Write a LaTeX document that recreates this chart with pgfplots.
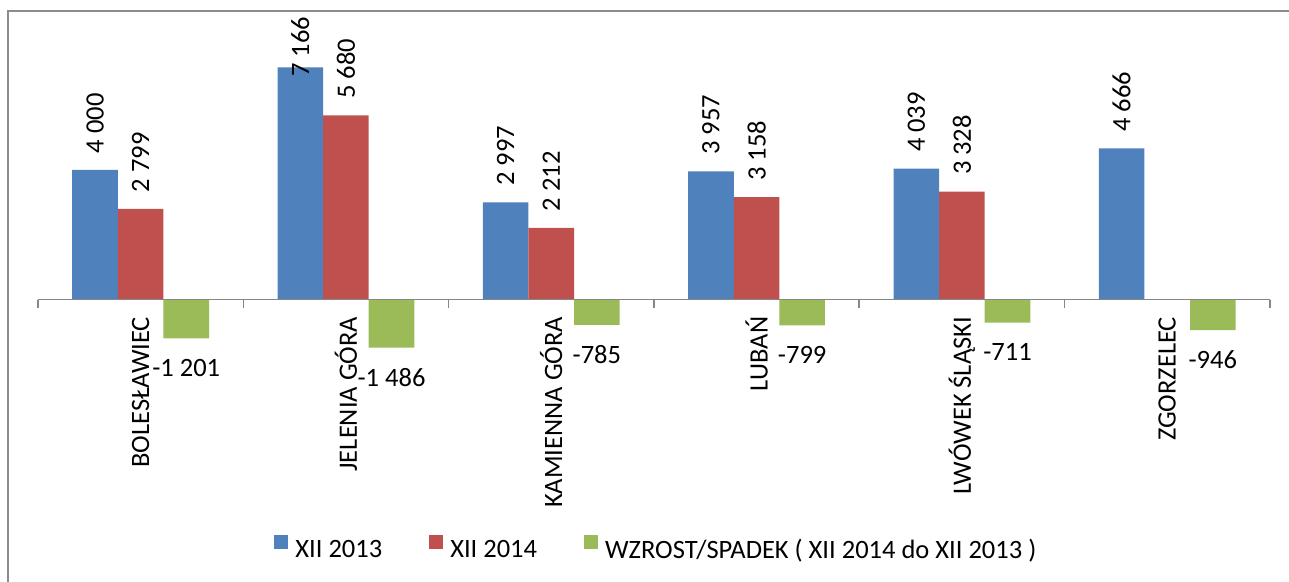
\documentclass[border=0pt]{standalone}
\usepackage{fontspec}
\setmainfont{Carlito}
\usepackage{pgfplots}
\pgfplotsset{compat=1.18}
\definecolor{cblue}{HTML}{4F81BD}
\definecolor{cred}{HTML}{C0504D}
\definecolor{cgreen}{HTML}{9BBB59}
\definecolor{axgray}{HTML}{868686}
\definecolor{frgray}{HTML}{8C8C8C}
\newcommand{\lab}{\fontsize{26.5}{31}\selectfont}
\begin{document}
\begin{tikzpicture}[x=1pt,y=1pt,font=\lab]
\path[use as bounding box] (-140.6,-281.5) rectangle (1148.4,299.5);
\draw[frgray, line width=2pt] (-132.6,-290) -- (-132.6,288) -- (1160,288);
\begin{axis}[
  at={(0pt,0pt)}, anchor=origin,
  scale only axis, width=1232pt, height=324pt,
  xmin=-0.5, xmax=5.5, ymin=-2000, ymax=8000,
  hide axis, clip=false,
  ybar=0pt, bar width=45.6pt,
  legend columns=3,
  legend image code/.code={\fill[#1] (0pt,1pt) rectangle (14pt,15pt);},
  legend style={at={(0.5012,-0.5654)}, anchor=center, draw=none, fill=none,
    font=\lab, nodes={inner sep=0pt}, column sep=7pt,
    /tikz/every even column/.append style={column sep=47pt}},
]
\addplot[fill=cblue, draw=none] coordinates {(0,4000) (1,7166) (2,2997) (3,3957) (4,4039) (5,4666)};
\addplot[fill=cred, draw=none] coordinates {(0,2799) (1,5680) (2,2212) (3,3158) (4,3328)};
\addplot[fill=cgreen, draw=none] coordinates {(0,-1201) (1,-1486) (2,-785) (3,-799) (4,-711) (5,-946)};
\legend{XII 2013, XII 2014, WZROST/SPADEK ( XII 2014 do XII 2013 )}
% zero line and category ticks
\draw[axgray, line width=1.7pt] (axis cs:-0.5,0) -- (axis cs:5.5,0);
\draw[axgray, line width=1.5pt] (axis cs:-0.5,0) -- (axis cs:-0.5,-250);
\draw[axgray, line width=1.5pt] (axis cs:0.5,0) -- (axis cs:0.5,-250);
\draw[axgray, line width=1.5pt] (axis cs:1.5,0) -- (axis cs:1.5,-250);
\draw[axgray, line width=1.5pt] (axis cs:2.5,0) -- (axis cs:2.5,-250);
\draw[axgray, line width=1.5pt] (axis cs:3.5,0) -- (axis cs:3.5,-250);
\draw[axgray, line width=1.5pt] (axis cs:4.5,0) -- (axis cs:4.5,-250);
\draw[axgray, line width=1.5pt] (axis cs:5.5,0) -- (axis cs:5.5,-250);
% category label anchors
\coordinate (c0) at (axis cs:0,-531);
\coordinate (c1) at (axis cs:1,-531);
\coordinate (c2) at (axis cs:2,-531);
\coordinate (c3) at (axis cs:3,-531);
\coordinate (c4) at (axis cs:4,-531);
\coordinate (c5) at (axis cs:5,-531);
% labels XII 2013
\node[rotate=90, anchor=west, inner sep=0pt] at (axis cs:-0.2221,4509) {4 000};
\node[rotate=90, anchor=west, inner sep=0pt] at (axis cs:0.7779,6867) {7 166};
\node[rotate=90, anchor=west, inner sep=0pt] at (axis cs:1.7779,3506) {2 997};
\node[rotate=90, anchor=west, inner sep=0pt] at (axis cs:2.7779,4466) {3 957};
\node[rotate=90, anchor=west, inner sep=0pt] at (axis cs:3.7779,4548) {4 039};
\node[rotate=90, anchor=west, inner sep=0pt] at (axis cs:4.7779,5175) {4 666};
% labels XII 2014
\node[rotate=90, anchor=west, inner sep=0pt] at (axis cs:0,3308) {2 799};
\node[rotate=90, anchor=west, inner sep=0pt] at (axis cs:1,6189) {5 680};
\node[rotate=90, anchor=west, inner sep=0pt] at (axis cs:2,2721) {2 212};
\node[rotate=90, anchor=west, inner sep=0pt] at (axis cs:3,3667) {3 158};
\node[rotate=90, anchor=west, inner sep=0pt] at (axis cs:4,3837) {3 328};
% labels change
\node[inner sep=0pt] at (axis cs:0.2221,-2111) {-1 201};
\node[inner sep=0pt] at (axis cs:1.2221,-2396) {-1 486};
\node[inner sep=0pt] at (axis cs:2.2221,-1695) {-785};
\node[inner sep=0pt] at (axis cs:3.2221,-1709) {-799};
\node[inner sep=0pt] at (axis cs:4.2221,-1621) {-711};
\node[inner sep=0pt] at (axis cs:5.2221,-1856) {-946};
\end{axis}
\node[rotate=90, anchor=east, inner sep=0pt] at (c0) {BOLESŁAWIEC};
\node[rotate=90, anchor=east, inner sep=0pt] at (c1) {JELENIA GÓRA};
\node[rotate=90, anchor=east, inner sep=0pt] at (c2) {KAMIENNA GÓRA};
\node[rotate=90, anchor=east, inner sep=0pt] at (c3) {LUBAŃ};
\node[rotate=90, anchor=east, inner sep=0pt] at (c4) {LWÓWEK ŚLĄSKI};
\node[rotate=90, anchor=east, inner sep=0pt] at (c5) {ZGORZELEC};
\end{tikzpicture}
\end{document}
